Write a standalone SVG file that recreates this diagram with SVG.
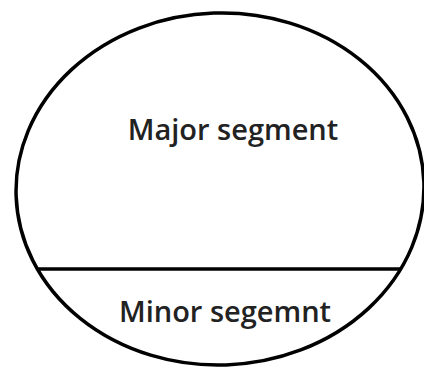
<svg xmlns="http://www.w3.org/2000/svg" width="424" height="369" viewBox="0 0 424 369">
<style>
.shape{fill:none;stroke:#000;stroke-width:3.5}
.lbl{font-family:"Open Sans","Liberation Sans",sans-serif;font-size:29px;font-weight:600;fill:#222;text-anchor:middle}
</style>
<defs>
<clipPath id="inside">
<ellipse cx="220" cy="189" rx="204" ry="176" transform="rotate(-2 220 189)"/>
</clipPath>
</defs>
<rect width="424" height="369" fill="#fff"/>
<g id="circle">
<ellipse class="shape" cx="220" cy="189" rx="204" ry="176" transform="rotate(-2 220 189)"/>
</g>
<g id="chord">
<line class="shape" x1="10" y1="269" x2="420" y2="269" clip-path="url(#inside)"/>
</g>
<g id="major">
<text class="lbl" x="233" y="140">Major segment</text>
</g>
<g id="minor">
<text class="lbl" x="225" y="322">Minor segemnt</text>
</g>
</svg>
